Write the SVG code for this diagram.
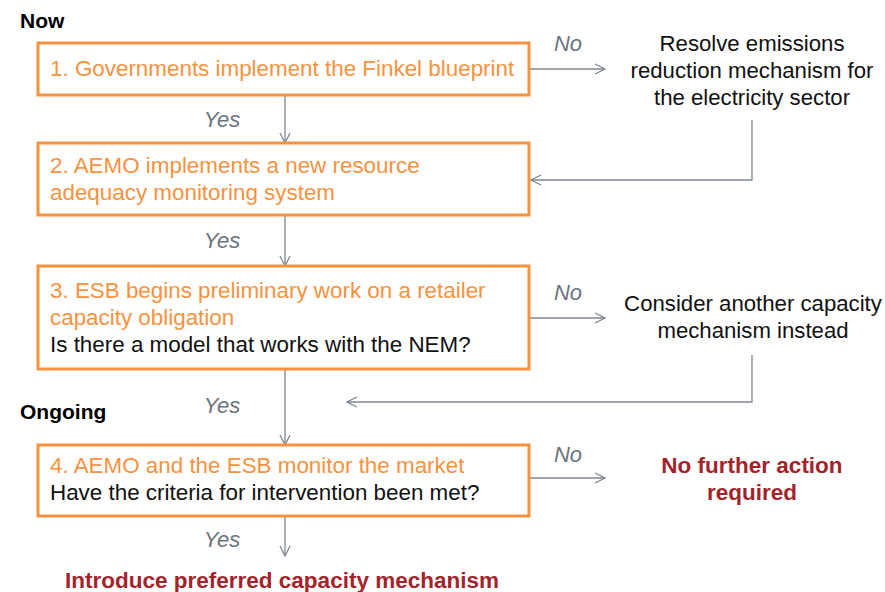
<svg xmlns="http://www.w3.org/2000/svg" width="885" height="592" viewBox="0 0 885 592">
  <style>
    .box { fill: #ffffff; stroke: #f7923f; stroke-width: 3; }
    .step { font-family: "Liberation Sans", Arial, sans-serif; font-size: 22.4px; fill: #f7923f; }
    .q { font-family: "Liberation Sans", Arial, sans-serif; font-size: 22.4px; fill: #111111; }
    .side { font-family: "Liberation Sans", Arial, sans-serif; font-size: 22.2px; fill: #111111; text-anchor: middle; }
    .lbl { font-family: "Liberation Sans", Arial, sans-serif; font-size: 22px; font-style: italic; fill: #6b7480; text-anchor: middle; }
    .head { font-family: "Liberation Sans", Arial, sans-serif; font-size: 21px; font-weight: bold; fill: #000000; }
    .end { font-family: "Liberation Sans", Arial, sans-serif; font-size: 22.5px; font-weight: bold; fill: #a3232b; text-anchor: middle; }
    .conn { fill: none; stroke: #7f8790; stroke-width: 1.3; }
  </style>
  <defs>
    <marker id="arrow" viewBox="0 0 12 12" refX="11" refY="6" markerWidth="12" markerHeight="12" markerUnits="userSpaceOnUse" orient="auto">
      <path d="M1,1 L11,6 L1,11" fill="none" stroke="#7f8790" stroke-width="1.3"/>
    </marker>
  </defs>

  <!-- phase headings -->
  <text class="head" x="20" y="28">Now</text>
  <text class="head" x="20" y="419">Ongoing</text>

  <!-- connectors -->
  <g id="connectors">
    <path class="conn" d="M285,95 V143" marker-end="url(#arrow)"/>
    <path class="conn" d="M285,215 V266" marker-end="url(#arrow)"/>
    <path class="conn" d="M285,369 V445" marker-end="url(#arrow)"/>
    <path class="conn" d="M285,516 V556" marker-end="url(#arrow)"/>
    <path class="conn" d="M529,69 H605" marker-end="url(#arrow)"/>
    <path class="conn" d="M529,318 H605" marker-end="url(#arrow)"/>
    <path class="conn" d="M529,478 H605" marker-end="url(#arrow)"/>
    <path class="conn" d="M752,120 V180 H531" marker-end="url(#arrow)"/>
    <path class="conn" d="M752,355 V402 H347" marker-end="url(#arrow)"/>
    <text class="lbl" x="222" y="127">Yes</text>
    <text class="lbl" x="222" y="248">Yes</text>
    <text class="lbl" x="222" y="413">Yes</text>
    <text class="lbl" x="222" y="547">Yes</text>
    <text class="lbl" x="568" y="51">No</text>
    <text class="lbl" x="568" y="300">No</text>
    <text class="lbl" x="568" y="462">No</text>
  </g>

  <g id="step1">
    <rect class="box" x="38" y="43" width="491" height="52"/>
    <text class="step" x="50" y="76">1. Governments implement the Finkel blueprint</text>
  </g>

  <g id="step2">
    <rect class="box" x="38" y="143" width="491" height="72"/>
    <text class="step" x="50" y="173">2. AEMO implements a new resource</text>
    <text class="step" x="50" y="200">adequacy monitoring system</text>
  </g>

  <g id="step3">
    <rect class="box" x="38" y="266" width="491" height="103"/>
    <text class="step" x="50" y="298">3. ESB begins preliminary work on a retailer</text>
    <text class="step" x="50" y="325">capacity obligation</text>
    <text class="q" x="50" y="352">Is there a model that works with the NEM?</text>
  </g>

  <g id="step4">
    <rect class="box" x="38" y="445" width="491" height="71"/>
    <text class="step" x="50" y="473">4. AEMO and the ESB monitor the market</text>
    <text class="q" x="50" y="500">Have the criteria for intervention been met?</text>
  </g>

  <g id="resolve">
    <text class="side" x="752" y="51">Resolve emissions</text>
    <text class="side" x="752" y="78">reduction mechanism for</text>
    <text class="side" x="752" y="105">the electricity sector</text>
  </g>

  <g id="consider">
    <text class="side" x="753" y="311">Consider another capacity</text>
    <text class="side" x="753" y="338">mechanism instead</text>
  </g>

  <g id="no-action">
    <text class="end" x="752" y="473">No further action</text>
    <text class="end" x="752" y="500">required</text>
  </g>

  <g id="introduce">
    <text class="end" x="282" y="588">Introduce preferred capacity mechanism</text>
  </g>
</svg>
